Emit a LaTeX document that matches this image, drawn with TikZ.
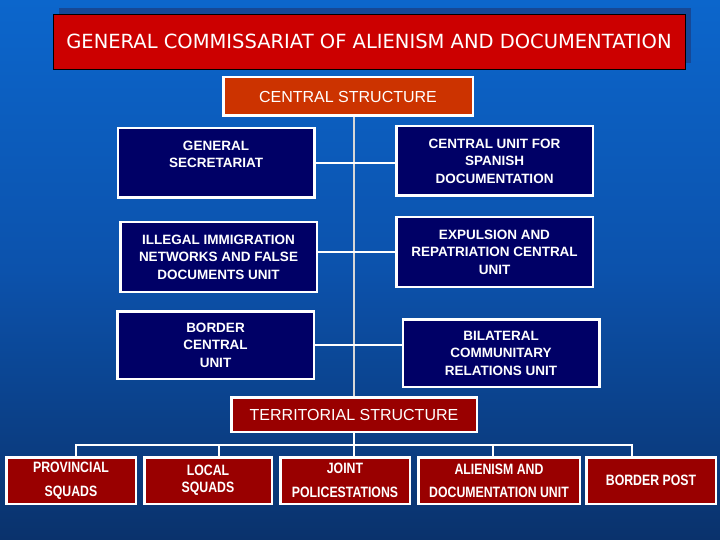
\documentclass[tikz,border=0pt]{standalone}
\usepackage{fontspec}
\setmainfont{Liberation Sans}
\newfontfamily\titlefont{DejaVu Sans}
\newfontfamily\narrowfont[FakeStretch=0.82]{Liberation Sans}
\usetikzlibrary{positioning}

\definecolor{bgtop}{RGB}{12,102,204}
\definecolor{bgmid}{RGB}{12,82,172}
\definecolor{bgbot}{RGB}{10,50,108}
\definecolor{shadowblue}{RGB}{22,72,150}
\definecolor{titlered}{RGB}{204,0,0}
\definecolor{orangered}{RGB}{204,51,0}
\definecolor{darkred}{RGB}{153,0,0}
\definecolor{navy}{RGB}{0,0,102}
\definecolor{spinegray}{RGB}{215,215,215}

\begin{document}
\begin{tikzpicture}[x=1pt,y=-1pt,
  unitbox/.style={draw=white,line width=2.5pt,fill=navy,text=white,align=center,
    inner sep=0pt,minimum width=196.5pt,minimum height=69.5pt,
    font=\bfseries\fontsize{13.5}{17.5}\selectfont},
  headbox/.style={draw=white,line width=2.5pt,text=white,align=center,inner sep=0pt,
    font=\fontsize{16}{19}\selectfont},
  postbox/.style={draw=white,line width=2.5pt,fill=darkred,text=white,align=center,
    inner sep=0pt,minimum height=46.5pt,font=\narrowfont\bfseries\fontsize{15}{17}\selectfont},
  link/.style={white,line width=2.5pt},
  spine/.style={spinegray,line width=1.5pt}]
  \useasboundingbox (0,0) rectangle (720,540);
  % background
  \shade[top color=bgtop,bottom color=bgbot,middle color=bgmid] (0,0) rectangle (720,540);
  % title with its shadow
  \fill[shadowblue] (59,8) rectangle (691,63);
  \node[draw=black,thin,fill=titlered,text=white,minimum width=632pt,minimum height=55pt,
    font=\titlefont\fontsize{19.5}{23}\selectfont] (title) at (369,41.5)
    {GENERAL COMMISSARIAT OF ALIENISM AND DOCUMENTATION};
  % central structure
  \node[headbox,fill=orangered,minimum width=249.5pt,minimum height=38.5pt] (cstruct) at (348,96.5) {CENTRAL STRUCTURE};
  \node[unitbox] (gensec) at (216,163) {GENERAL\\SECRETARIAT\\\mbox{}};
  \node[unitbox] (cudoc) at (494.5,161) {CENTRAL UNIT FOR\\SPANISH\\DOCUMENTATION};
  \node[unitbox] (illegal) at (218.5,257) {ILLEGAL IMMIGRATION\\NETWORKS AND FALSE\\DOCUMENTS UNIT};
  \node[unitbox] (expul) at (494.5,252) {EXPULSION AND\\REPATRIATION CENTRAL\\UNIT};
  \node[unitbox,minimum height=67.5pt] (border) at (215.5,345) {BORDER\\CENTRAL\\UNIT};
  \node[unitbox,minimum height=67.5pt] (bilat) at (501,353) {BILATERAL\\COMMUNITARY\\RELATIONS UNIT};
  % territorial structure
  \node[headbox,fill=darkred,minimum width=245.5pt,minimum height=34.5pt] (terr) at (354,414.5) {TERRITORIAL STRUCTURE};
  \node[postbox,minimum width=129.5pt] (prov) at (71,480.5) {PROVINCIAL\\[7pt]SQUADS};
  \node[postbox,minimum width=127.5pt] (local) at (208,480.5) {LOCAL\\SQUADS};
  \node[postbox,minimum width=129.5pt] (joint) at (345,480.5) {JOINT\\[7pt]POLICESTATIONS};
  \node[postbox,minimum width=161.5pt] (alien) at (499,480.5) {ALIENISM AND\\[6pt]DOCUMENTATION UNIT};
  \node[postbox,minimum width=129.5pt] (bpost) at (651,480.5) {BORDER POST};
  % connectors
  \draw[spine] (cstruct.south -| terr.north) -- (terr.north);
  \draw[link] (gensec.east) -- (gensec.east -| cudoc.west);
  \draw[link] (expul.west) -- (expul.west -| illegal.east);
  \draw[link] (border.east) -- (border.east -| bilat.west);
  \coordinate (bus) at (354,445);
  \draw[link] (terr.south) -- (bus);
  \draw[link] ([xshift=5pt]prov.north) |- (bus) -| ([xshift=-19pt]bpost.north);
  \draw[link] ([xshift=11pt]local.north) -- ([xshift=11pt]local.north |- bus);
  \draw[link] (joint.north -| bus) -- (bus);
  \draw[link] ([xshift=-6pt]alien.north) -- ([xshift=-6pt]alien.north |- bus);
\end{tikzpicture}
\end{document}
